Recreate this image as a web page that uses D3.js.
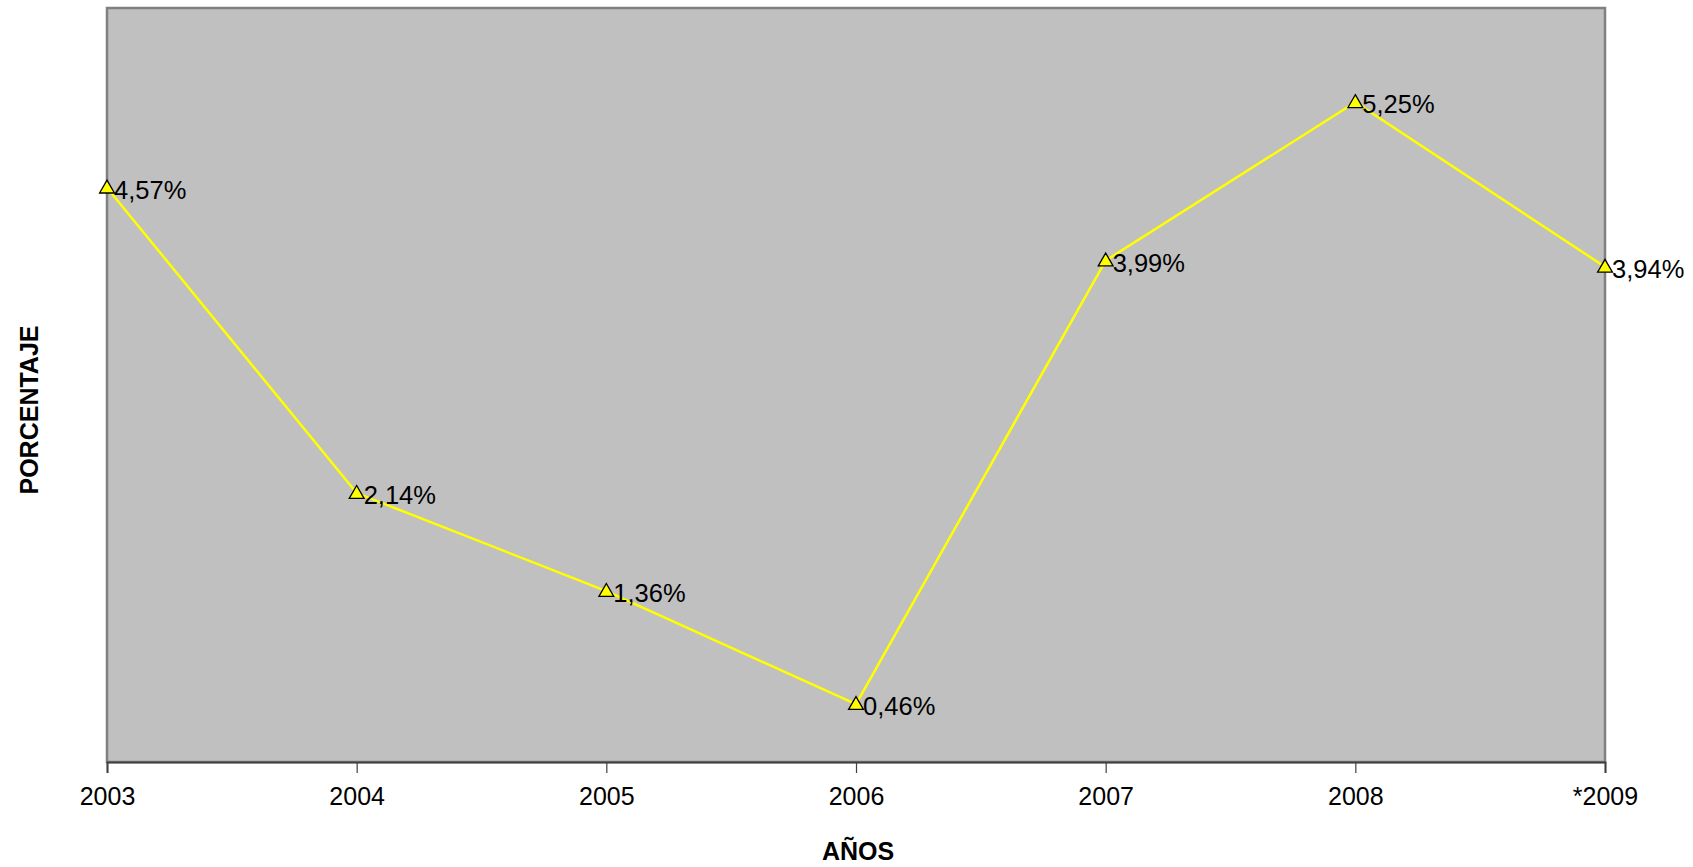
<!DOCTYPE html>
<html>
<head>
<meta charset="utf-8">
<script src="https://cdn.jsdelivr.net/npm/d3@7"></script>
<style>
  html, body { margin: 0; padding: 0; background: #fff; }
  svg { display: block; font-family: Arial, "Liberation Sans", sans-serif; }
</style>
</head>
<body>
<svg id="chart" width="1693" height="867"></svg>
<script>
const categories = ["2003", "2004", "2005", "2006", "2007", "2008", "*2009"];
const values = [4.57, 2.14, 1.36, 0.46, 3.99, 5.25, 3.94];
const valueLabels = ["4,57%", "2,14%", "1,36%", "0,46%", "3,99%", "5,25%", "3,94%"];
const yDomain = [0, 6];
const xTitle = "AÑOS";
const yTitle = "PORCENTAJE";

const svg = d3.select("#chart");
const m = { left: 107, right: 1605, top: 8, bottom: 762 };

const x = d3.scalePoint().domain(categories).range([m.left, m.right]);
const y = d3.scaleLinear().domain(yDomain).range([m.bottom, m.top]);

// plot background
svg.append("rect")
  .attr("x", m.left).attr("y", m.top)
  .attr("width", m.right - m.left).attr("height", m.bottom - m.top)
  .attr("fill", "#C0C0C0")
  .attr("stroke", "#808080").attr("stroke-width", 2.5);

// x axis
const xAxis = svg.append("g")
  .attr("transform", `translate(0,${m.bottom})`)
  .call(d3.axisBottom(x).tickSize(11).tickPadding(14));
xAxis.select(".domain").attr("stroke", "#404040").attr("stroke-width", 2);
xAxis.selectAll(".tick line").attr("stroke", "#404040").attr("stroke-width", 1.2);
xAxis.selectAll(".tick text")
  .attr("font-size", 25).attr("fill", "#000")
  .attr("font-family", "Arial, 'Liberation Sans', sans-serif");

// line
const line = d3.line()
  .x((d, i) => x(categories[i]))
  .y(d => y(d));
svg.append("path")
  .datum(values)
  .attr("d", line)
  .attr("fill", "none")
  .attr("stroke", "#FFFF00")
  .attr("stroke-width", 2.5);

// markers
svg.selectAll(".marker")
  .data(values)
  .enter().append("path")
  .attr("class", "marker")
  .attr("d", d3.symbol().type(d3.symbolTriangle).size(95))
  .attr("transform", (d, i) => `translate(${x(categories[i])},${y(d) + 1})`)
  .attr("fill", "#FFFF00")
  .attr("stroke", "#000")
  .attr("stroke-width", 1.3);

// data labels
svg.selectAll(".dlabel")
  .data(values)
  .enter().append("text")
  .attr("class", "dlabel")
  .attr("x", (d, i) => x(categories[i]) + 7)
  .attr("y", d => y(d) + 11)
  .attr("font-size", 25.5)
  .attr("fill", "#000")
  .text((d, i) => valueLabels[i]);

// axis titles
svg.append("text")
  .attr("x", 858).attr("y", 860)
  .attr("text-anchor", "middle")
  .attr("font-size", 25).attr("font-weight", "bold")
  .text(xTitle);

svg.append("text")
  .attr("transform", "translate(38,410) rotate(-90)")
  .attr("text-anchor", "middle")
  .attr("font-size", 25).attr("font-weight", "bold")
  .text(yTitle);
</script>
</body>
</html>
